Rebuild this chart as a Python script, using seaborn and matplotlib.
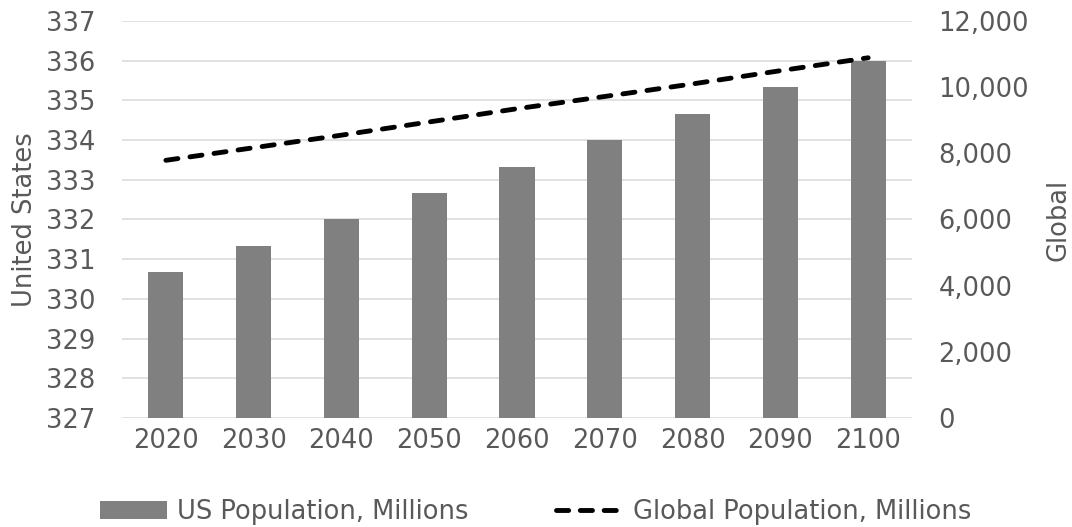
import numpy as np
import pandas as pd
import matplotlib
matplotlib.use("Agg")
import matplotlib.pyplot as plt
import seaborn as sns
from matplotlib.patches import Patch
from matplotlib.lines import Line2D
from matplotlib.ticker import FuncFormatter

years = ["2020", "2030", "2040", "2050", "2060", "2070", "2080", "2090", "2100"]
us_pop = [330.67, 331.33, 332.0, 332.67, 333.33, 334.0, 334.67, 335.33, 336.0]
global_pop = [7790, 8170, 8550, 8950, 9350, 9720, 10100, 10500, 10890]

bar_label = "US Population, Millions"
line_label = "Global Population, Millions"

sns.set_theme(style="white")
plt.rcParams['font.family'] = ['DejaVu Sans']

text_color = "#595959"
fs = 18.5

df = pd.DataFrame({"year": years, "us": us_pop, "glob": global_pop})
df["pos"] = np.arange(len(df))

fig = plt.figure(figsize=(10.72, 5.27), dpi=100)
ax = fig.add_axes([0.1138, 0.207, 0.737, 0.753])

sns.barplot(data=df, x="year", y="us", color="#808080", saturation=1,
            width=0.4, ax=ax, edgecolor="none", zorder=2)
ax.set_ylim(327, 337)
ax.set_yticks(np.arange(327, 338, 1))
ax.set_xlim(-0.5, len(years) - 0.5)
ax.yaxis.grid(True, color="#dcdcdc", linewidth=1.2, zorder=0)
ax.set_axisbelow(True)
for s in ax.spines.values():
    s.set_visible(False)
ax.set_xlabel("")
ax.set_ylabel("United States", fontsize=fs, color=text_color, labelpad=6)
ax.tick_params(axis="both", length=0, labelsize=fs, labelcolor=text_color)
ax.tick_params(axis="x", pad=7)
ax.tick_params(axis="y", pad=19)

ax2 = ax.twinx()
sns.lineplot(data=df, x="pos", y="glob", ax=ax2, color="black", linewidth=3.5,
             linestyle=(0, (2.5, 2.5)), dash_capstyle="round", legend=False, zorder=3)
ax2.set_ylim(0, 12000)
ax2.set_yticks(np.arange(0, 12001, 2000))
ax2.yaxis.set_major_formatter(FuncFormatter(lambda v, p: f"{int(v):,}"))
ax2.set_xlim(-0.5, len(years) - 0.5)
for s in ax2.spines.values():
    s.set_visible(False)
ax2.grid(False)
ax2.set_xlabel("")
ax2.set_ylabel("Global", fontsize=fs, color=text_color, labelpad=12)
ax2.tick_params(axis="y", length=0, labelsize=fs, labelcolor=text_color, pad=19)

handles = [Patch(facecolor="#808080", edgecolor="none", label=bar_label),
           Line2D([0], [0], color="black", linewidth=3.5, linestyle=(0, (2.5, 2.4)),
                  dash_capstyle="round", label=line_label)]
leg = fig.legend(handles=handles, loc="lower center", bbox_to_anchor=(0.5, -0.04),
                 ncol=2, frameon=False, fontsize=fs, handlelength=2.6,
                 handleheight=0.7, handletextpad=0.4, columnspacing=3.4)
for t in leg.get_texts():
    t.set_color(text_color)

fig.savefig("out.png", dpi=100)
